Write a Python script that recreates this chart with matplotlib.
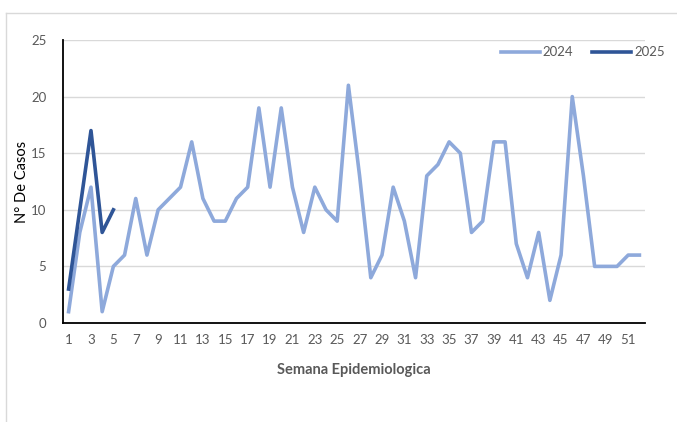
import matplotlib
matplotlib.use("Agg")
import matplotlib.pyplot as plt
from matplotlib.lines import Line2D

weeks_2024 = list(range(1, 53))
cases_2024 = [1, 8, 12, 1, 5, 6, 11, 6, 10, 11, 12, 16, 11, 9, 9, 11, 12, 19, 12, 19,
              12, 8, 12, 10, 9, 21, 13, 4, 6, 12, 9, 4, 13, 14, 16, 15, 8, 9, 16, 16,
              7, 4, 8, 2, 6, 20, 13, 5, 5, 5, 6, 6]
weeks_2025 = [1, 2, 3, 4, 5]
cases_2025 = [3, 10, 17, 8, 10]
x_ticks = list(range(1, 53, 2))
y_ticks = [0, 5, 10, 15, 20, 25]

c2024 = "#8EA9DB"
c2025 = "#2F5597"
gray = "#595959"

plt.rcParams['font.family'] = ['Lato', 'DejaVu Sans']

fig = plt.figure(figsize=(6.77, 4.22), dpi=100)
ax = fig.add_axes([63/677, 1 - 323/422, 582/677, 283/422])

ax.plot(weeks_2024, cases_2024, color=c2024, lw=2.6, label="2024")
ax.plot(weeks_2025, cases_2025, color=c2025, lw=2.6, label="2025")

ax.set_xlim(0.5, 52.5)
ax.set_ylim(0, 25)
ax.set_xticks(x_ticks)
ax.set_xticklabels([str(t) for t in x_ticks])
ax.set_yticks(y_ticks)
ax.tick_params(axis='both', length=0, labelsize=9.5, colors=gray, pad=8)
ax.tick_params(axis='y', pad=12)
ax.grid(axis='y', color="#D9D9D9", lw=1)
ax.set_axisbelow(True)
for s in ['top', 'right']:
    ax.spines[s].set_visible(False)
for s in ['left', 'bottom']:
    ax.spines[s].set_color('black')
    ax.spines[s].set_linewidth(1.3)

ax.set_xlabel("Semana Epidemiologica", fontsize=10.5, fontweight='bold', color=gray, labelpad=12)
ax.set_ylabel("N° De Casos", fontsize=10.5, color='black', labelpad=1)

leg = ax.legend(loc='upper right', bbox_to_anchor=(670/677, 1 - 41/422), bbox_transform=fig.transFigure,
                ncol=2, frameon=False, fontsize=9.5, handlelength=3.0, handletextpad=0.2,
                columnspacing=1.4, borderaxespad=0)
for t in leg.get_texts():
    t.set_color(gray)

# outer frame lines (top and left)
fig.add_artist(Line2D([6/677, 1], [1 - 13/422, 1 - 13/422], transform=fig.transFigure, color="#D9D9D9", lw=1))
fig.add_artist(Line2D([6/677, 6/677], [0, 1 - 13/422], transform=fig.transFigure, color="#D9D9D9", lw=1))

fig.savefig("out.png", dpi=100)
